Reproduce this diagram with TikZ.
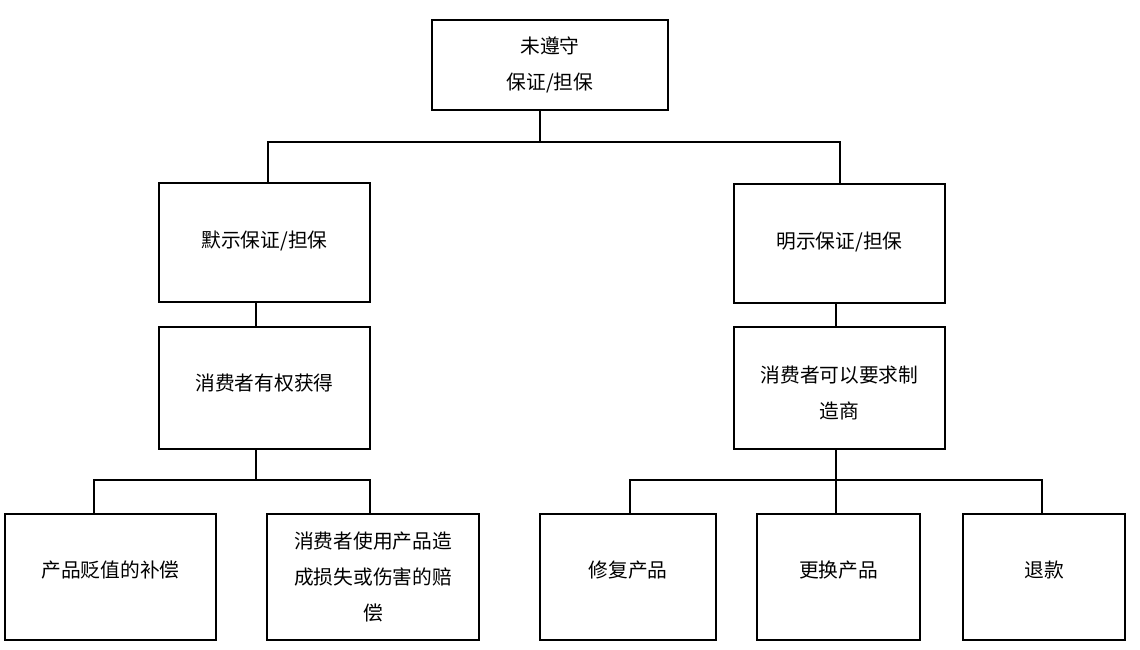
\documentclass[tikz,border=0pt]{standalone}
\usepackage{fontspec}
\setmainfont{Noto Sans CJK SC}
\newcommand{\liftup}[2]{\raisebox{#1}[\height][\depth]{#2}}
\begin{document}
\begin{tikzpicture}[x=0.75pt,y=-0.75pt,
  box/.style={draw=black, line width=1.8pt, rectangle, inner sep=0pt, outer sep=0pt,
    align=center, font=\fontsize{14.8pt}{27pt}\selectfont},
  link/.style={draw=black, line width=1.8pt}]
\useasboundingbox (0,0) rectangle (1140,650);
\fill[white] (0,0) rectangle (1140,650);
\node[box, minimum width=236*0.75pt, minimum height=90*0.75pt] (top) at (550,65) {未遵守\\保证/担保};
\node[box, minimum width=211*0.75pt, minimum height=119*0.75pt] (lb) at (264.5,242.5) {\liftup{1.5pt}{默示保证/担保}};
\node[box, minimum width=211*0.75pt, minimum height=119*0.75pt] (rb) at (839.5,243.5) {\liftup{1pt}{明示保证/担保}};
\node[box, minimum width=211*0.75pt, minimum height=122*0.75pt] (lc) at (264.5,388) {\liftup{4pt}{消费者有权获得}};
\node[box, minimum width=211*0.75pt, minimum height=122*0.75pt] (rc) at (839.5,388) {\liftup{-4pt}{\begin{tabular}{@{}c@{}}消费者可以要求制\\造商\end{tabular}}};
\node[box, minimum width=211*0.75pt, minimum height=126*0.75pt] (b1) at (110.5,577) {\liftup{5.25pt}{产品贬值的补偿}};
\node[box, minimum width=212*0.75pt, minimum height=126*0.75pt] (b2) at (373,577) {消费者使用产品造\\成损失或伤害的赔\\偿};
\node[box, minimum width=176*0.75pt, minimum height=126*0.75pt] (b3) at (628,577) {\liftup{5.25pt}{修复产品}};
\node[box, minimum width=163*0.75pt, minimum height=126*0.75pt] (b4) at (838.5,577) {\liftup{5.25pt}{更换产品}};
\node[box, minimum width=162*0.75pt, minimum height=126*0.75pt] (b5) at (1044,577) {\liftup{5.25pt}{退款}};
\coordinate (t1) at (540,142);
\coordinate (t1l) at (268,142);
\coordinate (t1r) at (840,142);
\coordinate (l1) at (256,315);
\coordinate (r1) at (836,315);
\coordinate (l2) at (256,480);
\coordinate (l2l) at (94,480);
\coordinate (l2r) at (370,480);
\coordinate (r2) at (836,480);
\coordinate (r2l) at (630,480);
\coordinate (r2r) at (1042,480);
\draw[link] (top.south -| t1) -- (t1);
\draw[link] (lb.north -| t1l) |- (t1) -| (rb.north -| t1r);
\draw[link] (lb.south -| l1) -- (lc.north -| l1);
\draw[link] (rb.south -| r1) -- (rc.north -| r1);
\draw[link] (lc.south -| l2) -- (l2);
\draw[link] (b1.north -| l2l) |- (l2) -| (b2.north -| l2r);
\draw[link] (rc.south -| r2) -- (b4.north -| r2);
\draw[link] (b3.north -| r2l) |- (r2) -| (b5.north -| r2r);
\end{tikzpicture}
\end{document}
